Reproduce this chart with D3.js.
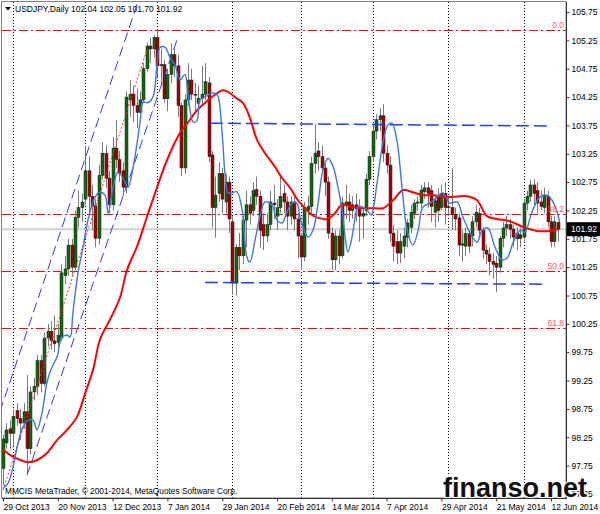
<!DOCTYPE html>
<html><head><meta charset="utf-8">
<script src="https://cdn.jsdelivr.net/npm/d3@7"></script>
<style>
body{margin:0;background:#fff;}
svg{display:block;}
text{font-family:"Liberation Sans",Arial,sans-serif;}
</style></head><body>
<svg id="c" width="600" height="514"></svg>
<script>
// ---------- DATA ----------
const symbol = "USDJPY,Daily";
const dateLabels = ["29 Oct 2013","20 Nov 2013","12 Dec 2013","7 Jan 2014","29 Jan 2014","20 Feb 2014","14 Mar 2014","7 Apr 2014","29 Apr 2014","21 May 2014","12 Jun 2014"];
const dateTickIdx = [0,16,32,48,64,80,96,112,128,144,160];
const monthGridIdx = [3,24,45,67,87,108,130,152];
const priceTicks = [97.25,97.75,98.25,98.75,99.25,99.75,100.25,100.75,101.25,101.75,102.25,102.75,103.25,103.75,104.25,104.75,105.25,105.75];

const open = [97.70,98.15,98.40,98.32,98.72,98.58,98.50,98.70,98.05,99.05,
99.15,99.60,99.20,100.00,100.12,99.95,99.92,100.00,101.10,101.22,
101.64,101.25,102.13,102.30,102.45,102.95,102.50,102.33,101.76,102.87,
103.26,102.82,102.35,103.35,103.15,102.95,102.66,104.20,104.30,104.10,
103.98,104.20,104.75,105.15,105.10,105.30,104.80,104.82,104.22,104.65,
105.00,104.80,104.10,103.00,104.20,104.55,104.30,104.14,104.23,104.30,
104.50,103.23,102.30,102.55,102.90,102.40,102.75,102.05,100.97,101.60,
101.45,102.08,102.35,102.25,102.62,102.50,102.00,101.80,102.00,102.38,
102.15,102.30,102.55,102.40,102.15,102.40,102.10,101.80,101.43,102.25,
102.32,103.08,103.30,103.20,103.00,102.75,101.85,101.38,101.80,101.45,
102.35,102.40,102.25,102.35,102.28,102.15,102.25,102.80,103.20,103.65,
103.85,103.92,103.26,103.05,101.85,101.70,101.50,101.62,101.78,101.95,
102.20,102.38,102.38,102.58,102.65,102.60,102.22,102.50,102.30,102.55,
102.30,102.30,102.18,102.12,101.64,101.62,101.84,101.80,102.05,102.20,
101.90,101.55,101.48,101.35,101.32,101.25,101.76,101.94,102.00,101.92,
101.75,101.82,101.78,102.38,102.50,102.70,102.60,102.40,102.30,102.50,
102.05,101.70,102.04];
const high = [98.30,98.50,98.55,98.75,98.85,98.75,98.85,99.35,99.15,99.30,
99.70,99.70,100.10,100.25,100.30,100.40,100.25,101.30,101.45,101.75,
101.75,102.25,102.60,102.55,103.38,103.20,102.70,102.45,103.05,103.45,
103.40,102.95,103.55,103.85,103.30,103.10,104.35,104.55,104.45,104.40,
104.35,104.85,105.20,105.30,105.35,105.44,105.10,104.90,104.75,105.20,
105.10,105.00,104.15,104.30,104.85,104.75,104.50,104.45,104.80,104.85,
104.60,103.30,102.85,103.10,103.00,102.90,102.85,102.15,101.65,101.85,
102.15,102.60,102.50,102.75,102.85,102.60,102.20,102.20,102.60,102.70,
102.45,102.85,102.70,102.50,102.50,102.50,102.20,101.85,102.40,102.50,
103.20,103.77,103.45,103.40,103.10,102.85,101.95,101.90,101.90,102.50,
102.70,102.55,102.50,102.55,102.45,102.30,102.90,103.30,103.75,103.95,
104.05,104.13,103.40,103.20,102.00,101.90,101.85,101.95,102.10,102.35,
102.45,102.50,102.70,102.75,102.75,102.70,102.50,102.65,102.70,102.75,
102.50,102.99,102.30,102.20,101.90,101.95,101.90,102.15,102.35,102.30,
101.95,101.65,101.60,101.50,101.45,101.80,102.05,102.15,102.10,102.00,
101.95,101.95,102.45,102.60,102.79,102.80,102.75,102.60,102.65,102.60,
102.15,102.15,102.05];
const low = [97.40,98.05,98.05,98.10,98.45,98.20,98.40,97.60,97.95,98.90,
99.00,99.05,99.15,99.85,99.80,99.75,99.75,99.95,100.95,101.10,
101.10,101.20,101.95,102.05,102.35,102.20,101.90,101.60,101.65,102.80,
102.65,102.20,102.25,103.00,102.75,102.50,102.55,103.90,103.80,103.70,
103.90,104.15,104.70,104.85,104.95,104.60,104.45,104.15,104.00,104.50,
104.60,103.90,102.86,102.90,104.10,104.20,104.00,104.00,104.10,104.20,
103.10,101.95,101.77,102.40,102.20,102.20,101.85,100.76,100.75,101.20,
101.30,101.60,102.00,102.15,102.35,101.60,101.55,101.70,101.90,102.10,
101.90,102.20,102.20,101.90,102.00,101.90,101.40,101.20,101.35,102.00,
102.20,102.90,102.95,102.90,102.50,101.75,101.20,101.20,101.30,101.40,
102.10,102.05,102.10,102.05,101.70,101.75,102.15,102.70,103.10,103.50,
103.65,103.10,102.90,101.70,101.35,101.30,101.32,101.40,101.60,101.85,
102.10,102.25,102.30,102.45,102.30,102.05,101.95,102.05,102.25,102.00,
102.15,101.90,101.90,101.45,101.35,101.45,101.50,101.62,101.95,101.80,
101.40,101.30,101.10,101.05,100.81,101.15,101.60,101.80,101.75,101.60,
101.55,101.60,101.70,102.25,102.40,102.35,102.20,102.25,102.20,101.95,
101.60,101.60,101.70];
const close = [98.22,98.38,98.32,98.62,98.58,98.50,98.70,98.05,99.05,99.15,
99.60,99.20,100.00,100.12,99.95,99.90,100.05,101.15,101.22,101.64,
101.25,102.13,102.30,102.40,102.95,102.50,102.33,101.76,102.87,103.26,
102.82,102.35,103.35,103.15,102.90,102.66,104.25,104.30,104.10,103.98,
104.20,104.75,105.15,105.10,105.30,104.80,104.82,104.22,104.65,105.00,
104.80,104.10,103.00,104.20,104.55,104.30,104.30,104.23,104.30,104.52,
103.20,102.30,102.52,102.90,102.45,102.75,102.10,100.97,101.60,101.45,
102.08,102.35,102.20,102.60,102.50,101.90,101.80,102.00,102.40,102.35,
102.30,102.50,102.40,102.15,102.40,102.10,101.80,101.43,102.30,102.32,
103.08,103.26,103.20,103.00,102.75,101.85,101.38,101.80,101.45,102.38,
102.40,102.25,102.35,102.28,102.15,102.20,102.80,103.20,103.65,103.85,
103.92,103.26,103.05,101.85,101.62,101.50,101.70,101.80,102.03,102.22,
102.38,102.40,102.61,102.65,102.55,102.32,102.42,102.25,102.55,102.30,
102.32,102.18,102.10,101.64,101.66,101.84,101.62,102.05,102.22,101.90,
101.55,101.48,101.35,101.30,101.25,101.76,101.94,102.00,101.92,101.78,
101.85,101.76,102.38,102.50,102.70,102.55,102.38,102.32,102.52,102.05,
101.70,102.05,101.92];

// slow moving average (red): bar index / value
const maSlowIdx = [0,2,5,7.3,10,12.8,15.8,18.7,21.6,24,26.3,28.3,31.2,34.2,36.2,39.1,42,45,47.9,51.7,54.6,56,59,61.9,64.2,65.7,67.7,70,72.1,74.2,76.5,79.4,81.5,83.8,86.1,88.2,90.2,92,94.9,96.9,99,101.9,104.8,108.6,111,113.9,116.8,119.7,122.6,125.5,128.5,131.4,135.5,138.4,141.3,144.2,148,151.8,155.9,159.7,162];
const maSlowVal = [98.04,97.94,97.85,97.81,97.85,97.97,98.20,98.38,98.61,99.03,99.44,99.97,100.32,100.72,101.20,101.61,102.13,102.66,103.14,103.62,103.85,103.97,104.15,104.29,104.37,104.34,104.25,104.15,103.88,103.49,103.26,103.02,102.82,102.65,102.43,102.29,102.17,102.12,102.10,102.20,102.35,102.31,102.29,102.29,102.29,102.43,102.61,102.57,102.52,102.52,102.49,102.49,102.50,102.43,102.15,102.10,102.06,101.96,101.89,101.89,101.92];

// fast moving average (blue)
const maFastIdx = [0,1.5,2.9,4.4,5.8,7.3,8.8,9.9,11.4,12.8,14.3,15.8,17.2,18.7,19.6,20.4,21.9,23.4,24.8,26.9,28.3,29.8,30.7,32.1,33.6,35,36.5,38,40,40.9,42.3,43.8,45,45.8,47.3,48.8,50.2,51.7,53.1,54,55.5,56.6,57.5,59,61,62.5,63.9,64.8,65.7,66.9,68.3,69.8,71.2,72.1,73.6,75,76.5,78.5,80,81.5,82.9,84.4,85.8,86.7,87.6,89.1,90.5,92,93.4,94.9,96.4,97.8,99,99.9,100.7,101.9,102.8,103.6,105.1,106.3,107.5,109.2,110.9,112.4,113.6,115,116.5,118,119.7,121.2,122.6,124.7,126.7,128.5,130.5,132.6,134.3,136.4,138.4,139.9,141.6,143.6,145.7,147.2,148.9,151,152.4,153.9,154.7,156.8,158.8,160.3,161.8,162.5];
const maFastVal = [97.35,97.44,97.72,98.15,98.43,98.55,98.55,98.38,98.68,99.21,99.49,99.67,100.02,100.05,100.02,100.44,101.15,101.61,102.08,102.49,102.57,102.52,102.20,102.65,102.93,102.82,102.66,103.02,103.79,104.16,104.15,104.25,104.85,105.12,105.13,104.94,104.82,104.55,104.65,104.32,103.81,103.83,104.20,104.25,104.32,104.29,103.67,102.91,102.56,102.56,102.58,102.26,101.43,101.34,101.73,102.13,102.40,102.35,102.08,102.03,102.22,102.38,102.38,102.13,101.96,101.78,101.90,102.38,102.96,103.17,103.02,102.66,102.26,101.78,101.52,101.78,102.13,102.31,102.31,102.26,102.17,102.73,103.44,103.76,103.79,103.49,102.66,101.90,101.64,101.90,102.31,102.38,102.49,102.56,102.38,102.40,102.13,101.85,101.69,101.90,101.94,101.61,101.38,101.41,101.68,101.90,101.87,102.12,102.26,102.49,102.52,102.43,102.22,102.05];

// Fibonacci retracement
const fibHigh = 105.44, fibLow = 96.93;
const fibLevels = [0, 38.2, 50, 61.8];

// horizontal support / resistance lines: [startBar, startPrice, endBar, endPrice]
const resistanceLine = [60.4, 103.79, 160, 103.74];
const supportLine = [59, 100.98, 158.8, 100.95];
// trend channel: [startBar, startPrice, endBar, endPrice]
const channelUpper = [-0.9, 98.70, 39.4, 105.93];
const channelLower = [7.0, 97.58, 50.8, 105.26];
const channelMid = [0, 97.32, 42, 105.08];

// ---------- CHART ----------
const W = 600, H = 514, L = 2, T = 2, R = 566, B = 498;
const svg = d3.select('#c');
svg.append('rect').attr('width', W).attr('height', H).attr('fill', '#fff');

const x = d3.scaleLinear().domain([0, 162]).range([3, 3 + 162 * 3.425]);
const y = d3.scaleLinear().domain([97.25, 105.75]).range([494, 12]);

svg.append('defs').append('clipPath').attr('id', 'clip')
  .append('rect').attr('x', L).attr('y', T).attr('width', R - L).attr('height', B - T);
const plot = svg.append('g').attr('clip-path', 'url(#clip)');

// grid (month starts)
plot.selectAll('line.grid').data(monthGridIdx).join('line')
  .attr('x1', d => Math.round(x(d)) + 0.5).attr('x2', d => Math.round(x(d)) + 0.5)
  .attr('y1', T).attr('y2', B)
  .attr('stroke', '#000').attr('stroke-width', 1).attr('stroke-dasharray', '1,2');

// bid line
const last = close.length - 1;
plot.append('line').attr('x1', L).attr('x2', R)
  .attr('y1', y(close[last])).attr('y2', y(close[last]))
  .attr('stroke', '#cfcfcf').attr('stroke-width', 2);

// fib lines
const fibPrice = lv => fibHigh - (fibHigh - fibLow) * lv / 100;
plot.selectAll('line.fib').data(fibLevels).join('line')
  .attr('x1', L).attr('x2', R)
  .attr('y1', d => Math.round(y(fibPrice(d))) + 0.5).attr('y2', d => Math.round(y(fibPrice(d))) + 0.5)
  .attr('stroke', '#ff0000').attr('stroke-width', 1).attr('stroke-dasharray', '9,3,2,3');

// candles
const bars = open.map((o, i) => ({ i, o, h: high[i], l: low[i], c: close[i] }));
const cg = plot.append('g');
cg.selectAll('line.wick').data(bars).join('line')
  .attr('x1', d => Math.round(x(d.i)) + 0.5).attr('x2', d => Math.round(x(d.i)) + 0.5)
  .attr('y1', d => y(d.h)).attr('y2', d => y(d.l))
  .attr('stroke', '#7a7a7a').attr('stroke-width', 1);
cg.selectAll('rect.body').data(bars).join('rect')
  .attr('x', d => Math.round(x(d.i)) - 1)
  .attr('width', 3)
  .attr('y', d => y(Math.max(d.o, d.c)))
  .attr('height', d => Math.max(1, Math.abs(y(d.o) - y(d.c))))
  .attr('fill', d => d.c > d.o ? '#0f6a0f' : (d.c < d.o ? '#a80000' : '#222'))
  .attr('stroke', '#1b1b1b').attr('stroke-width', 0.5);

// horizontal blue lines
[resistanceLine, supportLine].forEach(s => {
  plot.append('line')
    .attr('x1', x(s[0])).attr('y1', y(s[1])).attr('x2', x(s[2])).attr('y2', y(s[3]))
    .attr('stroke', '#1f3dff').attr('stroke-width', 1.5).attr('stroke-dasharray', '13,5');
});
// channel
[channelUpper, channelLower].forEach(s => {
  plot.append('line')
    .attr('x1', x(s[0])).attr('y1', y(s[1])).attr('x2', x(s[2])).attr('y2', y(s[3]))
    .attr('stroke', '#2a3be0').attr('stroke-width', 1).attr('stroke-dasharray', '10,5');
});
plot.append('line')
  .attr('x1', x(channelMid[0])).attr('y1', y(channelMid[1])).attr('x2', x(channelMid[2])).attr('y2', y(channelMid[3]))
  .attr('stroke', '#ff2a2a').attr('stroke-width', 1).attr('stroke-dasharray', '2,2');

// moving averages
const lineGen = d3.line().x(d => x(d[0])).y(d => y(d[1])).curve(d3.curveCatmullRom.alpha(0.5));
plot.append('path').datum(maSlowIdx.map((d, i) => [d, maSlowVal[i]]))
  .attr('d', lineGen).attr('fill', 'none').attr('stroke', '#ff0000').attr('stroke-width', 2);
plot.append('path').datum(maFastIdx.map((d, i) => [d, maFastVal[i]]))
  .attr('d', lineGen).attr('fill', 'none').attr('stroke', '#3a78e0').attr('stroke-width', 1.4);

// fib labels
svg.selectAll('text.fib').data(fibLevels).join('text')
  .attr('x', 564).attr('y', d => y(fibPrice(d)) - 2)
  .attr('text-anchor', 'end').attr('font-size', 8.5).attr('fill', '#ff5a5a')
  .text(d => d3.format('.1f')(d));

// frame
svg.append('rect').attr('x', L - 0.5).attr('y', T - 0.5).attr('width', R - L + 0.5).attr('height', B - T + 0.5)
  .attr('fill', 'none').attr('stroke', '#808080').attr('stroke-width', 1);
svg.append('line').attr('x1', R + 0.5).attr('x2', R + 0.5).attr('y1', T).attr('y2', B + 1).attr('stroke', '#333');
svg.append('line').attr('x1', L).attr('x2', R + 1).attr('y1', B + 0.5).attr('y2', B + 0.5).attr('stroke', '#333');

// right axis
const ya = svg.append('g').attr('transform', `translate(${R + 0.5},0)`)
  .call(d3.axisRight(y).tickValues(priceTicks).tickSize(3).tickFormat(d3.format('.2f')));
ya.select('.domain').remove();
ya.selectAll('line').attr('stroke', '#333');
ya.selectAll('text').attr('font-size', 8.5).attr('fill', '#000').attr('x', 5)
  .style('font-family', '"Liberation Sans",Arial,sans-serif');

// bottom axis
const xa = svg.append('g').attr('transform', `translate(0,${B + 0.5})`)
  .call(d3.axisBottom(x).tickValues(dateTickIdx).tickSize(3).tickFormat((d, i) => dateLabels[i]));
xa.select('.domain').remove();
xa.selectAll('line').attr('stroke', '#333');
xa.selectAll('text').attr('font-size', 8.5).attr('fill', '#000')
  .attr('text-anchor', 'start').attr('dx', 0).attr('x', 0).attr('y', 5)
  .style('font-family', '"Liberation Sans",Arial,sans-serif');

// current price label
const cy = y(close[last]);
svg.append('rect').attr('x', R + 1).attr('y', cy - 7).attr('width', 33).attr('height', 14).attr('fill', '#000');
svg.append('text').attr('x', R + 5).attr('y', cy + 3).attr('font-size', 8.5).attr('fill', '#fff')
  .text(d3.format('.2f')(close[last]));

// title
svg.append('path').attr('d', 'M5,7 L11,7 L8,10.5 Z').attr('fill', '#000');
svg.append('text').attr('x', 15).attr('y', 12).attr('font-size', 8.5).attr('fill', '#000')
  .text(`${symbol}  ${[open[last], high[last], low[last], close[last]].map(d3.format('.2f')).join(' ')}`);

// copyright
svg.append('text').attr('x', 5).attr('y', 494).attr('font-size', 8.3).attr('fill', '#000')
  .text('MMCIS MetaTrader, © 2001-2014, MetaQuotes Software Corp.');

// watermark
svg.append('text').attr('x', 443).attr('y', 497).attr('font-size', 27).attr('font-weight', 'bold')
  .attr('fill', '#111').attr('stroke', '#fff').attr('stroke-width', 2).attr('paint-order', 'stroke')
  .text('finanso.net');
</script>
</body></html>
